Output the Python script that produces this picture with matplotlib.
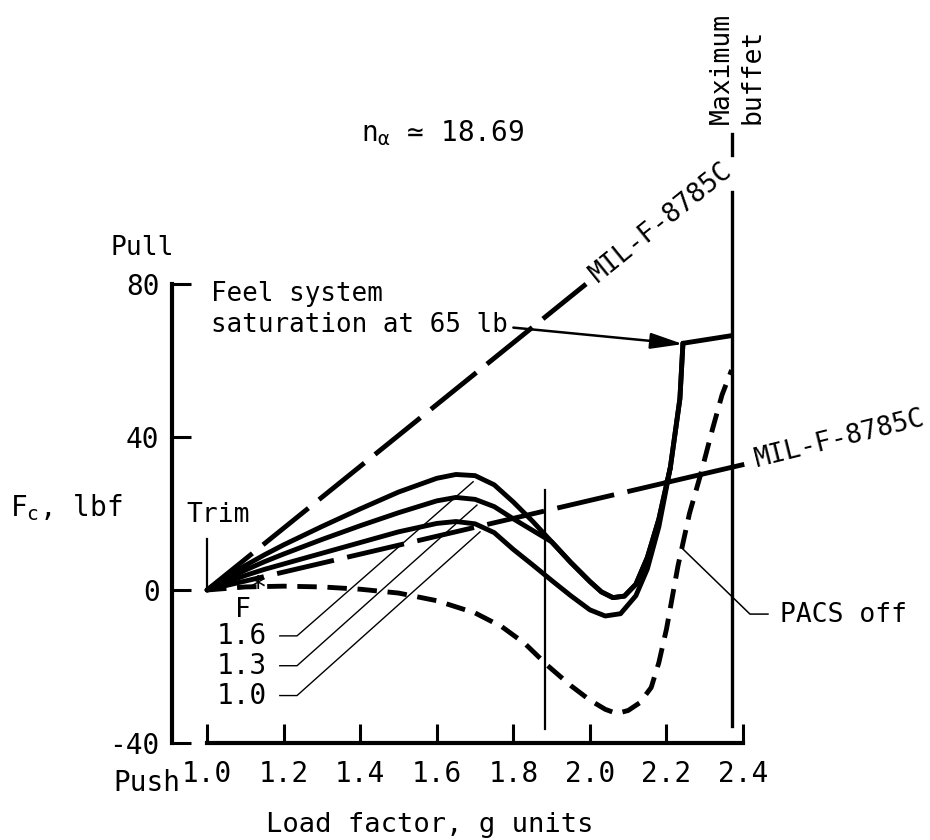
import numpy as np
import matplotlib
matplotlib.use('Agg')
import matplotlib.pyplot as plt

# typewriter look of the old report
plt.rcParams['font.family'] = ['DejaVu Sans Mono', 'DejaVu Sans']
plt.rcParams['mathtext.fontset'] = 'custom'
plt.rcParams['mathtext.rm'] = 'DejaVu Sans Mono'
plt.rcParams['mathtext.it'] = 'DejaVu Sans Mono'
plt.rcParams['axes.unicode_minus'] = False
plt.rcParams['font.size'] = 19

# curves (load factor g, stick force lbf)
n_f16 = [1.0, 1.05, 1.1, 1.15, 1.2, 1.3, 1.4, 1.5, 1.6, 1.65, 1.7, 1.75, 1.8, 1.85,
         1.9, 1.95, 2.0, 2.03, 2.06, 2.09, 2.12, 2.15, 2.18, 2.21, 2.235, 2.243]
fc_f16 = [0, 3.4, 6.4, 9.2, 11.8, 16.6, 21.2, 25.6, 29.2, 30.2, 29.9, 27.5, 23.0, 18.0,
          12.6, 7.2, 2.2, -0.5, -2.0, -1.6, 1.5, 8.5, 18.5, 32.0, 50.0, 64.5]

n_f13 = [1.0, 1.05, 1.1, 1.15, 1.2, 1.3, 1.4, 1.5, 1.6, 1.65, 1.7, 1.75, 1.8, 1.85,
         1.9, 1.95, 2.0, 2.03, 2.06, 2.09, 2.12, 2.15, 2.18, 2.21, 2.235, 2.243]
fc_f13 = [0, 2.8, 5.2, 7.4, 9.4, 13.2, 16.8, 20.2, 23.3, 24.2, 23.7, 21.8, 18.6, 15.6,
          12.6, 7.2, 2.2, -0.5, -2.0, -1.6, 1.5, 8.5, 18.5, 32.0, 50.0, 64.5]

n_f10 = [1.0, 1.05, 1.1, 1.15, 1.2, 1.3, 1.4, 1.5, 1.6, 1.65, 1.7, 1.75, 1.8, 1.85,
         1.9, 1.95, 2.0, 2.04, 2.08, 2.12, 2.15, 2.18, 2.21]
fc_f10 = [0, 2.0, 3.8, 5.4, 6.8, 9.6, 12.4, 15.2, 17.4, 17.9, 17.3, 15.0, 10.6, 6.6,
          2.5, -1.5, -5.2, -6.8, -6.2, -1.5, 5.5, 16.5, 32.0]

n_pacs = [1.0, 1.1, 1.2, 1.3, 1.4, 1.5, 1.6, 1.7, 1.77, 1.83, 1.89, 1.95, 2.0, 2.04,
          2.07, 2.1, 2.13, 2.16, 2.18, 2.2, 2.23, 2.26, 2.29, 2.32, 2.345, 2.37]
fc_pacs = [0, 0.8, 1.0, 0.8, 0.2, -0.8, -2.8, -6.0, -9.6, -14.0, -19.8, -25.0, -28.8, -31.2,
           -32.3, -31.5, -29.5, -25.5, -19.0, -10.2, 6.3, 20.0, 30.5, 42.0, 51.0, 57.5]

n_sat = [2.243, 2.37]
fc_sat = [64.5, 66.5]

n_mil_hi = [1.0, 1.99]
fc_mil_hi = [0, 80.0]
n_mil_lo = [1.0, 2.2, 2.397]
fc_mil_lo = [0, 28.1, 32.7]

n_limit = 1.882
n_buffet = 2.37

xticks = [1.0, 1.2, 1.4, 1.6, 1.8, 2.0, 2.2, 2.4]
yticks = [-40, 0, 40, 80]

fig = plt.figure(figsize=(9.3, 8.4), dpi=100)
ax = fig.add_axes([0.185, 0.1155, 0.614, 0.5464])
ax.set_xlim(0.9086, 2.4)
ax.set_ylim(-40, 80)

for s in ['top', 'right']:
    ax.spines[s].set_visible(False)
ax.spines['left'].set_linewidth(3)
ax.spines['bottom'].set_linewidth(3)
ax.spines['bottom'].set_bounds(1.0, 2.4)

ax.set_xticks(xticks)
ax.set_xticklabels(['%.1f' % v for v in xticks])
ax.set_yticks(yticks)
ax.set_yticklabels([str(v) for v in yticks])
ax.tick_params(direction='in', length=14, width=2.2, labelsize=20)
ax.tick_params(axis='x', pad=12)
ax.tick_params(axis='y', pad=9)

k = dict(color='black', solid_capstyle='round', clip_on=False)
ax.plot(n_f16, fc_f16, lw=3.5, **k)
ax.plot(n_f13, fc_f13, lw=3.5, **k)
ax.plot(n_f10, fc_f10, lw=3.5, **k)
ax.plot(n_sat, fc_sat, lw=3.5, **k)
ax.plot(n_pacs, fc_pacs, lw=3.5, dashes=(4, 2.2), color='black', clip_on=False)
ax.plot(n_mil_hi, fc_mil_hi, lw=3.5, dashes=(12, 2.8), color='black', clip_on=False)
ax.plot(n_mil_lo[:2], fc_mil_lo[:2], lw=3.5, dashes=(12, 2.8), color='black', clip_on=False)
ax.plot(n_mil_lo[1:], fc_mil_lo[1:], lw=3.5, color='black', clip_on=False)

ax.plot([n_limit, n_limit], [-36.4, 26.2], lw=1.6, color='black')
ax.plot([n_buffet, n_buffet], [-35.6, 104], lw=2.4, color='black', clip_on=False)
ax.plot([n_buffet, n_buffet], [113.8, 119.3], lw=2.4, color='black', clip_on=False)
ax.plot([1.0, 1.0], [0, 13.3], lw=1.6, color='black')

# labels and notes
ax.text(1.029, 19.5, 'Trim', ha='center', va='center')
ax.text(0.83, 89.3, 'Pull', ha='center', va='center', clip_on=False)
ax.text(0.843, -50.5, 'Push', ha='center', va='center', fontsize=20, clip_on=False)
ax.text(0.778, 21.6, r'$F_c$, lbf', ha='right', va='center', fontsize=20, clip_on=False)
fig.text(430 / 930, 1 - 832 / 840, 'Load factor, g units', ha='center', va='baseline',
         fontsize=19.5)

ax.text(1.614, 119.5, r'$n_\alpha$ ≃ 18.69', ha='center', va='center', fontsize=20,
        clip_on=False)
ax.text(2.384, 121.9, 'Maximum\nbuffet', rotation=90, ha='center', va='bottom',
        multialignment='left', linespacing=1.25, clip_on=False)

ax.text(1.01, 80.7, 'Feel system\nsaturation at 65 lb', ha='left', va='top',
        fontsize=18.6, linespacing=1.25, clip_on=False)
ax.annotate('', xy=(2.243, 64.3), xytext=(1.80, 68.6),
            arrowprops=dict(arrowstyle='-|>,head_length=0.9,head_width=0.22', lw=1.8,
                            color='black', mutation_scale=22, shrinkA=0, shrinkB=0))

ax.text(2.008, 81.8, 'MIL-F-8785C', rotation=39, rotation_mode='anchor',
        ha='left', va='center', clip_on=False)
ax.text(2.432, 34.0, 'MIL-F-8785C', rotation=14, rotation_mode='anchor',
        ha='left', va='center', clip_on=False)

ax.plot([2.243, 2.418, 2.465], [10.7, -6.3, -6.3], lw=1.1, color='black', clip_on=False)
ax.text(2.496, -6.5, 'PACS off', ha='left', va='center', clip_on=False)

# feel-gradient tags
ax.text(1.094, -5.2, 'F', ha='center', va='center')
ax.text(1.133, 0.3, '*', ha='center', va='center', fontsize=22)
tag_y = [-12.0, -19.8, -27.6]
tag_txt = ['1.6', '1.3', '1.0']
tag_end = [(1.695, 28.3), (1.705, 22.2), (1.713, 15.2)]
for ty, tt, (ex, ey) in zip(tag_y, tag_txt, tag_end):
    ax.text(1.157, ty, tt, ha='right', va='center', fontsize=20)
    ax.plot([1.19, 1.235, ex], [ty, ty, ey], lw=1.0, color='black')

fig.savefig('out.png', dpi=100)
